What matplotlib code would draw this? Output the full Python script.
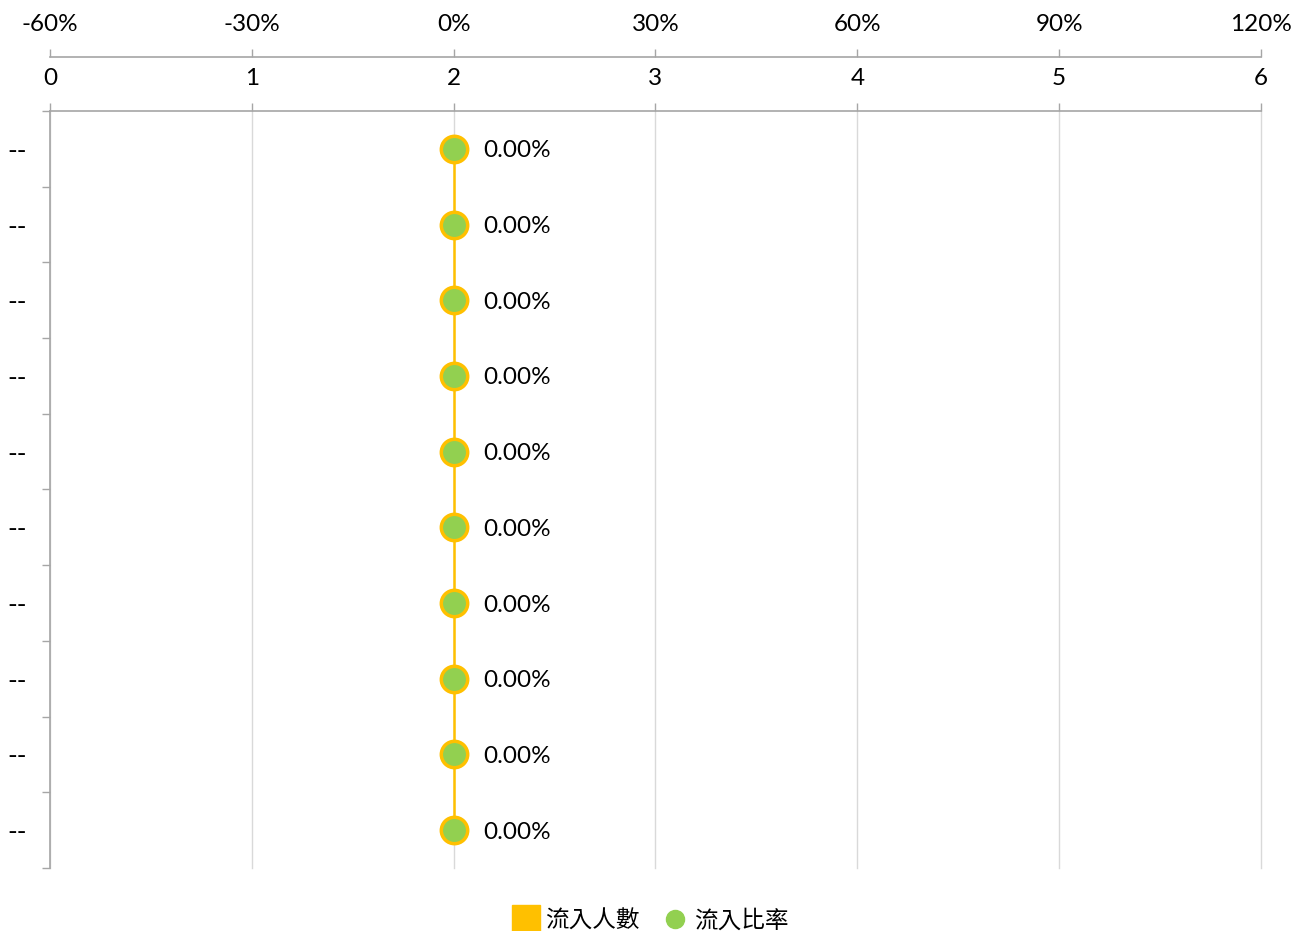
import matplotlib
matplotlib.use("Agg")
import matplotlib.pyplot as plt
from matplotlib.lines import Line2D
from matplotlib.ticker import FuncFormatter, MultipleLocator, FixedLocator

plt.rcParams["font.family"] = ["Lato", "Noto Sans CJK TC", "DejaVu Sans"]

# data
categories = ["--", "--", "--", "--", "--", "--", "--", "--", "--", "--"]
inflow_counts = [0, 0, 0, 0, 0, 0, 0, 0, 0, 0]
inflow_ratios = [0.0, 0.0, 0.0, 0.0, 0.0, 0.0, 0.0, 0.0, 0.0, 0.0]
count_label = "流入人數"
ratio_label = "流入比率"

YELLOW = "#FFC000"
GREEN = "#92D050"
AXIS_GREY = "#A6A6A6"
GRID_GREY = "#D9D9D9"
FS = 17.5

W, H = 1303, 931
fig = plt.figure(figsize=(W / 100, H / 100), dpi=100)
ax = fig.add_axes([50 / W, (H - 868) / H, (1261 - 50) / W, (868 - 111) / H])

ypos = list(range(len(categories)))

# bars (all zero counts)
ax.barh(ypos, inflow_counts, height=0.6, color=YELLOW)
ax.set_xlim(0, 6)
ax.set_ylim(len(categories) - 0.5, -0.5)

# ratio line on the secondary axis
ax2 = ax.twiny()
ax2.plot(inflow_ratios, ypos, color=YELLOW, linewidth=1.8, marker="o",
         markersize=19, markerfacecolor=GREEN, markeredgecolor=YELLOW,
         markeredgewidth=2.5, zorder=3)
for r, y in zip(inflow_ratios, ypos):
    ax2.annotate(f"{r:.2%}", (r, y), xytext=(21, 0), textcoords="offset points",
                 va="center_baseline", ha="left", fontsize=FS)
ax2.set_xlim(-0.6, 1.2)
ax2.set_ylim(len(categories) - 0.5, -0.5)
ax2.xaxis.set_major_locator(MultipleLocator(0.3))
ax2.xaxis.set_major_formatter(FuncFormatter(lambda v, p: f"{v * 100:.0f}%"))
ax2.spines["top"].set_position(("outward", 39))
ax2.spines["top"].set_color(AXIS_GREY)
ax2.spines["top"].set_linewidth(1.2)
for side in ("right", "bottom", "left"):
    ax2.spines[side].set_visible(False)
ax2.tick_params(axis="x", direction="out", length=5.8, width=1, color=AXIS_GREY,
                pad=10, labelsize=FS)

# primary count axis on top too (twiny moves it to the bottom)
ax.xaxis.tick_top()
ax.xaxis.set_label_position("top")
ax.xaxis.set_major_locator(MultipleLocator(1))
ax.grid(axis="x", color=GRID_GREY, linewidth=1)
for gl in ax.get_xgridlines():
    gl.set_clip_on(False)
ax.set_axisbelow(True)
ax.tick_params(axis="x", direction="out", length=5.8, width=1, color=AXIS_GREY,
               pad=10, labelsize=FS, labelcolor="black")

ax.set_yticks(ypos)
ax.set_yticklabels(categories)
ax.yaxis.set_minor_locator(FixedLocator([i - 0.5 for i in range(len(categories) + 1)]))
ax.tick_params(axis="y", which="major", length=0, pad=17, labelsize=19)
ax.tick_params(axis="y", which="minor", length=5.8, width=1, color=AXIS_GREY)

for side in ("right", "bottom"):
    ax.spines[side].set_visible(False)
for side in ("top", "left"):
    ax.spines[side].set_color(AXIS_GREY)
    ax.spines[side].set_linewidth(1.2)

handles = [
    Line2D([], [], linestyle="none", marker="s", markersize=20,
           markerfacecolor=YELLOW, markeredgecolor=YELLOW, label=count_label),
    Line2D([], [], linestyle="none", marker="o", markersize=13,
           markerfacecolor=GREEN, markeredgecolor=GREEN, label=ratio_label),
]
fig.legend(handles=handles, loc="center", bbox_to_anchor=(0.5, 11 / H), ncol=2,
           frameon=False, fontsize=17, handletextpad=0.3, columnspacing=1.0,
           handlelength=1.0)

fig.savefig("out.png", dpi=100)
